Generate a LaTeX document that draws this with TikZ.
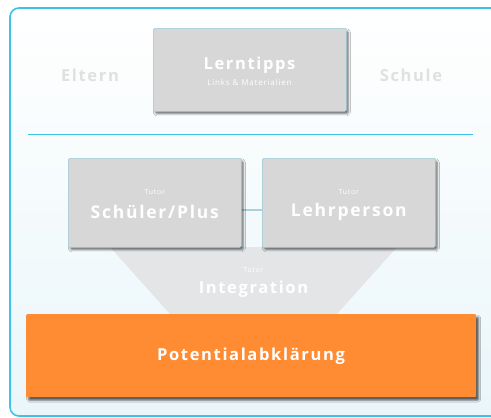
\documentclass[tikz,border=0pt]{standalone}
\usepackage{fontspec}
\setmainfont{Open Sans}
\newfontfamily\lblfont[LetterSpace=10]{Open Sans}
\usetikzlibrary{shadows.blur,calc}
\definecolor{frameblue}{HTML}{3EC3E8}
\definecolor{boxgray}{HTML}{D7D7D7}
\definecolor{funnelgray}{HTML}{E3E5E7}
\definecolor{faintgray}{HTML}{E0E0E0}
\definecolor{orangebox}{HTML}{FF8C33}
\definecolor{bgtop}{HTML}{FFFFFF}
\definecolor{bgbot}{HTML}{EAF6FA}
\begin{document}
\begin{tikzpicture}[x=1pt,y=-1pt,
  graybox/.style={fill=boxgray,draw=frameblue!35!boxgray,line width=0.6pt,rounded corners=1.5pt,
    blur shadow={shadow xshift=2pt,shadow yshift=-2.5pt,shadow blur radius=2pt,shadow opacity=55}},
  orbox/.style={fill=orangebox,draw=none,rounded corners=1pt,
    blur shadow={shadow xshift=2.5pt,shadow yshift=-3pt,shadow blur radius=2pt,shadow opacity=65}},
  side/.style={text=faintgray,font=\lblfont\bfseries\fontsize{16.5}{18}\selectfont},
  small/.style={text=white,font=\lblfont\fontsize{7}{8}\selectfont},
  big/.style={text=white,font=\lblfont\bfseries\fontsize{17.5}{19}\selectfont}]
\useasboundingbox (0,0) rectangle (491,418);
\fill[white] (0,0) rectangle (491,418);
% frame with gradient
\shade[top color=bgtop,bottom color=bgbot,rounded corners=9pt] (10,8) rectangle (500,416);
\draw[frameblue,line width=1.6pt,rounded corners=9pt] (10,8) rectangle (500,416);
% separator
\draw[frameblue,line width=0.9pt] (28,134) -- (473,134);
% Lerntipps
\node[graybox,minimum width=193pt,minimum height=83pt,anchor=north west] (lern) at (153,28) {};
\node[text=white,font=\lblfont\bfseries\fontsize{16.5}{18}\selectfont] (lernt) at (249.5,65) {Lerntipps};
\node[text=white!97!boxgray,font=\lblfont\fontsize{8}{9}\selectfont] (lerns) at (249.5,82) {Links \& Materialien};
\node[side] (eltern) at (90,75) {Eltern};
\node[side] (schule) at (411,75) {Schule};
% funnel
\fill[funnelgray] (110,247) -- (397,247) -- (337,314) -- (170,314) -- cycle;
\node[small] (tint) at (253.5,270) {Tutor};
\node[text=white,font=\lblfont\bfseries\fontsize{16.5}{18}\selectfont] (integ) at (253.5,289) {Integration};
% tutor boxes
\draw[frameblue!30!boxgray,line width=1.4pt] (241,210) coordinate (cl) -- (262,210) coordinate (cr);
\node[graybox,minimum width=173pt,minimum height=89pt,anchor=north west] (sch) at (68,158) {};
\node[graybox,minimum width=173pt,minimum height=89pt,anchor=north west] (leh) at (262,158) {};
\node[small] (st) at (sch.center|-0,192) {Tutor};
\node[big] (sn) at (sch.center|-0,212) {Schüler/Plus};
\node[small] (lt) at (leh.center|-0,192) {Tutor};
\node[big] (ln) at (leh.center|-0,212) {Lehrperson};
% orange
\node[orbox,minimum width=450pt,minimum height=83pt,anchor=north west] (pot) at (26,314) {};
\node[text=white,font=\lblfont\bfseries\fontsize{16.5}{18}\selectfont] (potl) at (251,356) {Potentialabklärung};
\end{tikzpicture}
\end{document}
